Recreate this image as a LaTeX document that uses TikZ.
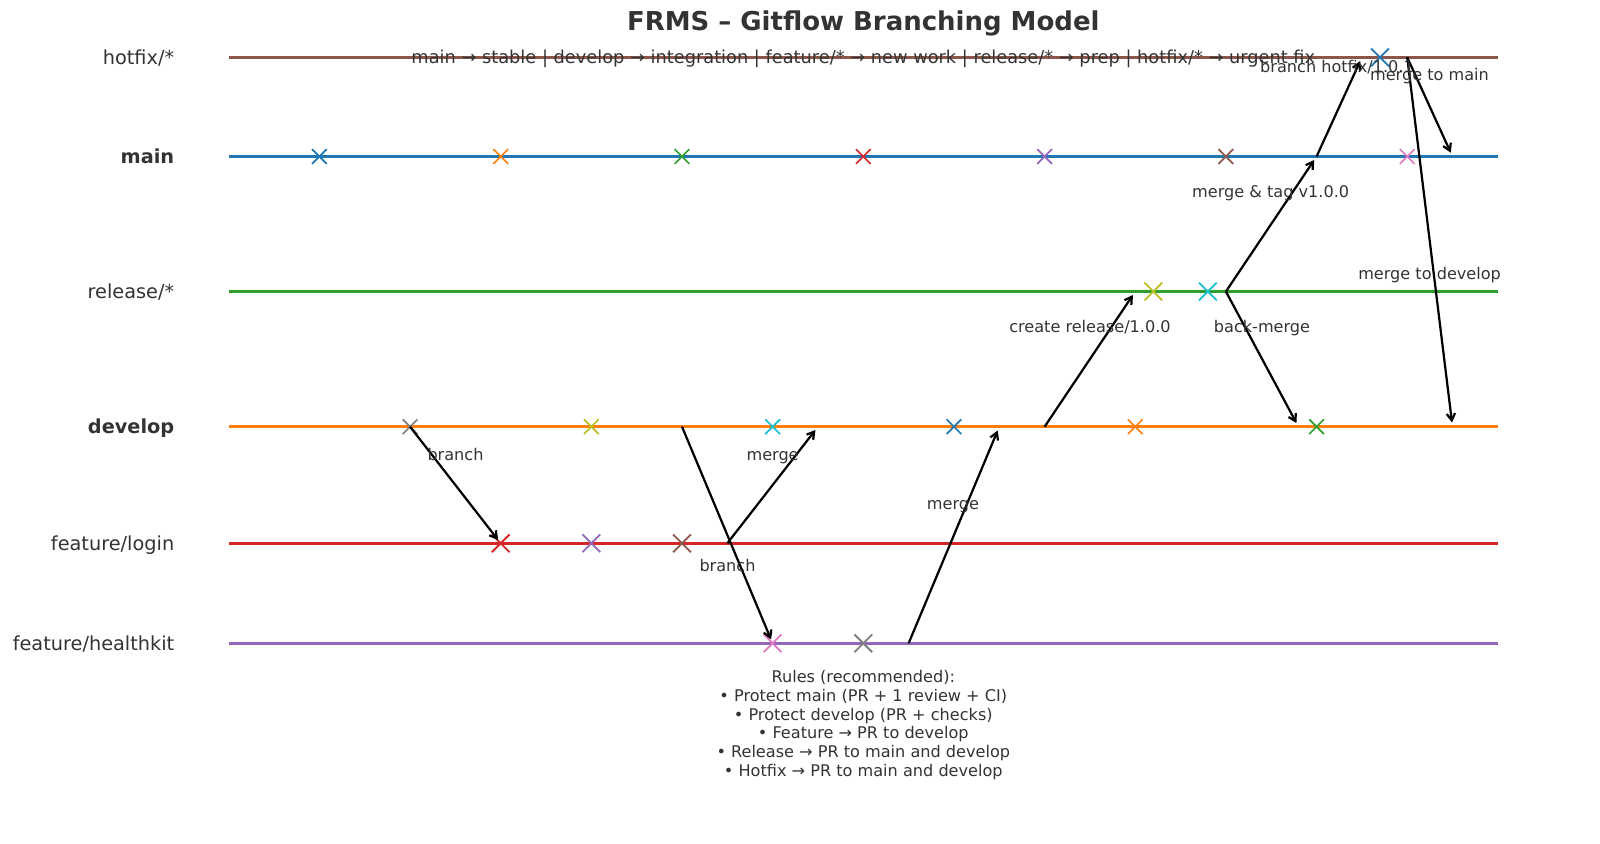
\documentclass[tikz,border=0pt]{standalone}
\usepackage{fontspec}
\setmainfont{DejaVu Sans}
\usetikzlibrary{arrows.meta,shapes.misc}
\definecolor{cA}{HTML}{1F77B4}
\definecolor{cB}{HTML}{FF7F0E}
\definecolor{cC}{HTML}{2CA02C}
\definecolor{cD}{HTML}{D62728}
\definecolor{cE}{HTML}{9467BD}
\definecolor{cF}{HTML}{8C564B}
\definecolor{cG}{HTML}{E377C2}
\definecolor{cH}{HTML}{7F7F7F}
\definecolor{cI}{HTML}{BCBD22}
\definecolor{cJ}{HTML}{17BECF}
\definecolor{txt}{HTML}{333333}
\begin{document}
\begin{tikzpicture}[x=0.72pt,y=-0.72pt,
  lane/.style={line width=2.16pt},
  cm/.style={cross out, draw=#1, line width=1.2pt, minimum size=9.4pt, inner sep=0pt},
  cmb/.style={cross out, draw=#1, line width=1.3pt, minimum size=11.5pt, inner sep=0pt},
  flow/.style={line width=1.6pt, -{Straight Barb[length=5pt,width=6pt]}, shorten >=3pt},
  lbl/.style={font=\fontsize{11.6}{14}\selectfont, text=txt, inner sep=0pt, anchor=base},
  lanelbl/.style={font=\fontsize{13.9}{16}\selectfont, text=txt, inner sep=0pt, anchor=base east}]
\useasboundingbox (0,0) rectangle (1600,844);

% lanes
\coordinate (hfL) at (228.75,57.3);   \coordinate (hfR) at (1497.85,57.3);
\coordinate (mnL) at (228.75,156.5);  \coordinate (mnR) at (1497.85,156.5);
\coordinate (rlL) at (228.75,291.5);  \coordinate (rlR) at (1497.85,291.5);
\coordinate (dvL) at (228.75,426.7);  \coordinate (dvR) at (1497.85,426.7);
\coordinate (lgL) at (228.75,543.3);  \coordinate (lgR) at (1497.85,543.3);
\coordinate (hkL) at (228.75,643.3);  \coordinate (hkR) at (1497.85,643.3);
\draw[lane,cF] (hfL) -- (hfR);
\draw[lane,cA] (mnL) -- (mnR);
\draw[lane,cC] (rlL) -- (rlR);
\draw[lane,cB] (dvL) -- (dvR);
\draw[lane,cD] (lgL) -- (lgR);
\draw[lane,cE] (hkL) -- (hkR);

% lane labels
\node[lanelbl] (Lhf) at (174.5,64.3) {hotfix/*};
\node[lanelbl] (Lmn) at (174.5,163.5) {\bfseries main};
\node[lanelbl] (Lrl) at (174.5,298.5) {release/*};
\node[lanelbl] (Ldv) at (174.5,433.7) {\bfseries develop};
\node[lanelbl] (Llg) at (174.5,550.3) {feature/login};
\node[lanelbl] (Lhk) at (174.5,650.3) {feature/healthkit};

% commits main
\node[cm=cA] (m1) at (319.4,156.5) {};
\node[cm=cB] (m2) at (500.7,156.5) {};
\node[cm=cC] (m3) at (682.0,156.5) {};
\node[cm=cD] (m4) at (863.3,156.5) {};
\node[cm=cE] (m5) at (1044.6,156.5) {};
\node[cm=cF] (m6) at (1225.9,156.5) {};
\node[cm=cG] (m7) at (1407.2,156.5) {};
% commits develop
\node[cm=cH] (d1) at (410.05,426.7) {};
\node[cm=cI] (d2) at (591.35,426.7) {};
\node[cm=cJ] (d3) at (772.65,426.7) {};
\node[cm=cA] (d4) at (953.95,426.7) {};
\node[cm=cB] (d5) at (1135.25,426.7) {};
\node[cm=cC] (d6) at (1316.55,426.7) {};
% feature/login
\node[cmb=cD] (l1) at (500.7,543.3) {};
\node[cmb=cE] (l2) at (591.35,543.3) {};
\node[cmb=cF] (l3) at (682.0,543.3) {};
% feature/healthkit
\node[cmb=cG] (k1) at (772.65,643.3) {};
\node[cmb=cH] (k2) at (863.3,643.3) {};
% release
\node[cmb=cI] (r1) at (1153.4,291.5) {};
\node[cmb=cJ] (r2) at (1207.8,291.5) {};
% hotfix
\node[cmb=cA] (h1) at (1380.0,57.3) {};

% arrow end points
\coordinate (a2s) at (682.0,426.7);
\coordinate (a3s) at (727.3,543.3);  \coordinate (a3e) at (818.0,426.7);
\coordinate (a4s) at (908.6,643.3);  \coordinate (a4e) at (999.3,426.7);
\coordinate (a5s) at (1044.6,426.7); \coordinate (a5e) at (1135.25,291.5);
\coordinate (a6s) at (1225.9,291.5); \coordinate (a6e) at (1316.55,156.5);
\coordinate (a7e) at (1298.4,426.7);
\coordinate (a8s) at (1316.55,156.5); \coordinate (a8e) at (1361.9,57.3);
\coordinate (a9s) at (1407.2,57.3);  \coordinate (a9e) at (1452.5,156.5);
\coordinate (a10e) at (1452.5,426.7);

\draw[flow] (d1.center) -- (l1.center);
\draw[flow] (a2s) -- (k1.center);
\draw[flow] (a3s) -- (a3e);
\draw[flow] (a4s) -- (a4e);
\draw[flow] (a5s) -- (a5e);
\draw[flow] (a6s) -- (a6e);
\draw[flow] (a6s) -- (a7e);
\draw[flow] (a8s) -- (a8e);
\draw[flow] (a9s) -- (a9e);
\draw[flow] (a9s) -- (a10e);

% arrow labels
\node[lbl] (t1) at (455.5,460) {branch};
\node[lbl] (t2) at (772.6,460) {merge};
\node[lbl] (t3) at (727.5,571.7) {branch};
\node[lbl] (t4) at (953,509) {merge};
\node[lbl] (t5) at (1090,332.7) {create release/1.0.0};
\node[lbl] (t6) at (1262,332.7) {back-merge};
\node[lbl] (t7) at (1270.7,197.3) {merge \& tag v1.0.0};
\node[lbl] (t8) at (1429.6,279.3) {merge to develop};
\node[lbl] (t9) at (1337,72.7) {branch hotfix/1.0.1};
\node[lbl] (t10) at (1429.5,80.7) {merge to main};

% title and subtitle
\node[anchor=base, inner sep=0pt, text=txt, font=\fontsize{18.7}{22}\selectfont\bfseries] (title) at (863.3,31) {FRMS – Gitflow Branching Model};
\node[lbl, font=\fontsize{12.8}{15}\selectfont] (sub) at (863.3,63.5) {main → stable | develop → integration | feature/* → new work | release/* → prep | hotfix/* → urgent fix};

% rules
\node[anchor=north, inner sep=0pt, text=txt, align=center, font=\fontsize{11.6}{13.5}\selectfont] (rules) at (863.3,670.1)
 {Rules (recommended):\\
  • Protect main (PR + 1 review + CI)\\
  • Protect develop (PR + checks)\\
  • Feature → PR to develop\\
  • Release → PR to main and develop\\
  • Hotfix → PR to main and develop};
\end{tikzpicture}
\end{document}
